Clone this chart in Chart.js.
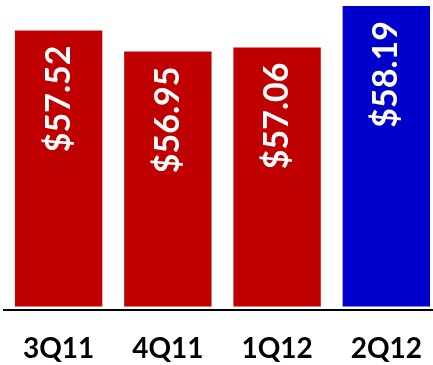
<!DOCTYPE html>
<html>
<head>
<meta charset="utf-8">
<style>
  html, body { margin: 0; padding: 0; background: #fff; overflow: hidden; }
  #chart { display: block; }
</style>
</head>
<body>
<canvas id="chart" width="444" height="365" style="width:444px;height:365px"></canvas>

<script src="https://cdn.jsdelivr.net/npm/chart.js"></script>

<script>
  const quarters = ['3Q11', '4Q11', '1Q12', '2Q12'];
  const prices = [57.52, 56.95, 57.06, 58.19];
  const barColors = ['#C00000', '#C00000', '#C00000', '#0000CC'];

  // price written sideways near the top of each bar
  const barLabels = {
    id: 'barLabels',
    afterDatasetsDraw(chart) {
      const { ctx } = chart;
      const meta = chart.getDatasetMeta(0);
      ctx.save();
      ctx.fillStyle = '#fff';
      ctx.font = 'bold 34px Lato';
      ctx.textAlign = 'right';
      ctx.textBaseline = 'middle';
      meta.data.forEach((bar, i) => {
        const { x, y } = bar.getProps(['x', 'y'], true);
        ctx.save();
        ctx.translate(x, y + 15);
        ctx.rotate(-Math.PI / 2);
        ctx.fillText('$' + prices[i].toFixed(2), 0, 0);
        ctx.restore();
      });
      ctx.restore();
    },
  };

  const chart = new Chart(document.getElementById('chart'), {
    type: 'bar',
    data: {
      labels: quarters,
      datasets: [{
        data: prices,
        backgroundColor: barColors,
        base: 50,
        barPercentage: 0.8,
        categoryPercentage: 1,
      }],
    },
    options: {
      responsive: false,
      animation: false,
      layout: { padding: { left: 4, right: 0, top: 0, bottom: 0 } },
      plugins: {
        legend: { display: false },
        tooltip: { enabled: false },
      },
      scales: {
        y: {
          display: false,
          min: 49.905,
          max: 58.354,
        },
        x: {
          afterFit(scale) { scale.height = 55; },
          grid: { display: false, drawTicks: false },
          border: { display: true, color: '#000', width: 2 },
          ticks: {
            color: '#000',
            padding: 22,
            font: { family: 'Lato', size: 28, weight: 'bold' },
          },
        },
      },
    },
    plugins: [barLabels],
  });
</script>
</body>
</html>
